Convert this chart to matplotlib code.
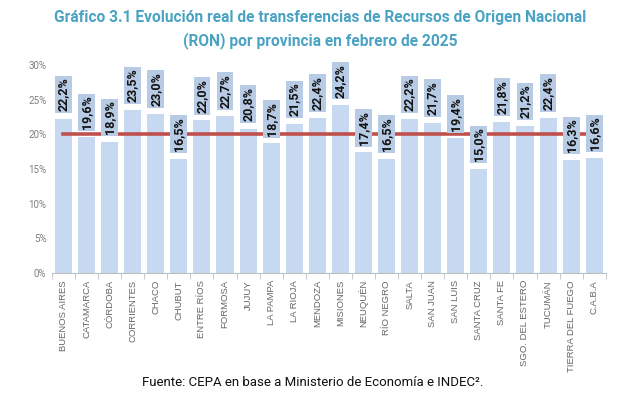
import matplotlib
matplotlib.use("Agg")
import matplotlib.pyplot as plt
import numpy as np
from matplotlib.ticker import PercentFormatter

provincias = ["BUENOS AIRES", "CATAMARCA", "CÓRDOBA", "CORRIENTES", "CHACO", "CHUBUT",
              "ENTRE RÍOS", "FORMOSA", "JUJUY", "LA PAMPA", "LA RIOJA", "MENDOZA",
              "MISIONES", "NEUQUÉN", "RÍO NEGRO", "SALTA", "SAN JUAN", "SAN LUIS",
              "SANTA CRUZ", "SANTA FE", "SGO. DEL ESTERO", "TUCUMÁN", "TIERRA DEL FUEGO", "C.A.B.A"]
valores = [22.2, 19.6, 18.9, 23.5, 23.0, 16.5, 22.0, 22.7, 20.8, 18.7, 21.5, 22.4,
           24.2, 17.4, 16.5, 22.2, 21.7, 19.4, 15.0, 21.8, 21.2, 22.4, 16.3, 16.6]
promedio = [20.0] * len(provincias)
yticks = [0, 5, 10, 15, 20, 25, 30]

fig = plt.figure(figsize=(6.41, 4.01), dpi=100)
ax = fig.add_axes([0.081, 0.319, 0.864, 0.519])

x = np.arange(len(provincias))
bars = ax.bar(x, valores, width=0.74, color="#C6D9F0", zorder=1)
ax.plot(x, promedio, color="#C0504D", lw=2.6, zorder=2)

for xi, v in zip(x, valores):
    ax.annotate(f"{v:.1f}%".replace(".", ","), xy=(xi, v), xytext=(0, 5.5),
                textcoords="offset points", rotation=90, ha="center", va="bottom",
                fontsize=9, fontweight="bold", family="Roboto", color="#111111",
                bbox=dict(boxstyle="square,pad=0.15", fc="#B7CBE5", ec="none"), zorder=3)

ax.set_xlim(-0.5, len(provincias) - 0.5)
ax.set_ylim(0, 30)
ax.set_yticks(yticks)
ax.yaxis.set_major_formatter(PercentFormatter(decimals=0))
ax.set_xticks(x)
ax.set_xticklabels(provincias, rotation=90, fontsize=6.8, color="#666666", family="Liberation Sans")
ax.set_xticks(np.arange(-0.5, len(provincias), 1), minor=True)
ax.tick_params(axis="x", which="major", length=0, pad=5)
ax.tick_params(axis="x", which="minor", length=4, color="#BFBFBF")
ax.tick_params(axis="y", length=0, labelsize=7, labelcolor="#7F7F7F", pad=4)
for lab in ax.get_yticklabels():
    lab.set_family("Roboto")
for s in ["top", "right", "left"]:
    ax.spines[s].set_visible(False)
ax.spines["bottom"].set_color("#BFBFBF")

fig.text(0.5, 0.957, "Gráfico 3.1 Evolución real de transferencias de Recursos de Origen Nacional",
         ha="center", va="center", fontsize=11.2, fontweight="bold", color="#4BA3C3", family="Roboto")
fig.text(0.5, 0.9, "(RON) por provincia en febrero de 2025",
         ha="center", va="center", fontsize=11.2, fontweight="bold", color="#4BA3C3", family="Roboto")
fig.text(0.488, 0.045, "Fuente: CEPA en base a Ministerio de Economía e INDEC².",
         ha="center", va="center", fontsize=9.5, color="#111111", family="Roboto")

fig.savefig("out.png", dpi=100)
